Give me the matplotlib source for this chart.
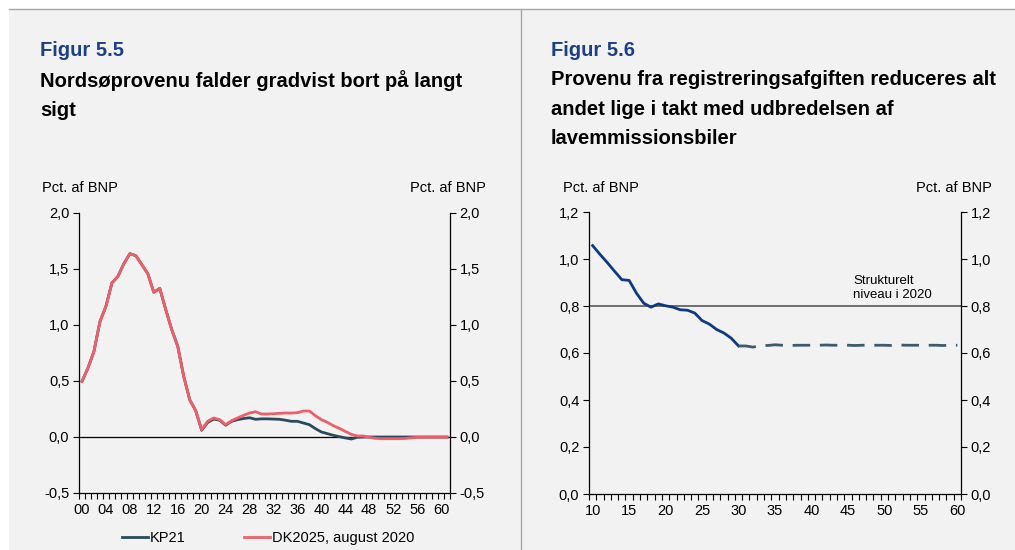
import numpy as np
import matplotlib
matplotlib.use("Agg")
import matplotlib.pyplot as plt
from matplotlib.lines import Line2D
from matplotlib.patches import Rectangle
from matplotlib.ticker import FuncFormatter, FixedLocator

plt.rcParams['font.family'] = ['Liberation Sans', 'DejaVu Sans']

# ---- Figur 5.5: Nordsøprovenu (pct. af BNP), 2000-2061 ----
years_a = list(range(0, 62))
dk2025 = [0.497, 0.616, 0.765, 1.03, 1.167, 1.375, 1.434, 1.548, 1.637, 1.619,
          1.539, 1.458, 1.292, 1.327, 1.137, 0.958, 0.81, 0.542, 0.333, 0.235,
          0.065, 0.14, 0.17, 0.155, 0.11, 0.146, 0.17, 0.193, 0.214, 0.226,
          0.205, 0.205, 0.208, 0.211, 0.214, 0.214, 0.217, 0.232, 0.232, 0.19,
          0.155, 0.131, 0.101, 0.077, 0.05, 0.024, 0.009, 0.009, -0.003, -0.012,
          -0.015, -0.015, -0.015, -0.015, -0.013, -0.008, -0.003, -0.002, -0.002, -0.002,
          -0.002, -0.002]
kp21 = [0.497, 0.616, 0.765, 1.03, 1.167, 1.375, 1.434, 1.548, 1.637, 1.619,
        1.539, 1.458, 1.292, 1.327, 1.137, 0.958, 0.81, 0.542, 0.333, 0.235,
        0.06, 0.13, 0.16, 0.15, 0.105, 0.14, 0.155, 0.165, 0.172, 0.158,
        0.162, 0.162, 0.16, 0.158, 0.15, 0.14, 0.14, 0.125, 0.11, 0.075,
        0.045, 0.03, 0.015, 0.003, -0.008, -0.018, -0.003, 0.0, 0.0, 0.0,
        0.0, 0.0, 0.0, 0.0, 0.0, 0.0, 0.0, 0.0, 0.0, 0.0,
        0.0, 0.0]
xlabels_a = ["00", "04", "08", "12", "16", "20", "24", "28", "32", "36",
             "40", "44", "48", "52", "56", "60"]

# ---- Figur 5.6: Provenu fra registreringsafgiften, 2010-2060 ----
years_hist = list(range(10, 31))
reg_hist = [1.057, 1.02, 0.985, 0.948, 0.912, 0.909, 0.855, 0.812, 0.795, 0.809,
            0.801, 0.795, 0.784, 0.782, 0.770, 0.738, 0.723, 0.700, 0.685, 0.663,
            0.630]
years_proj = list(range(30, 61))
reg_proj = [0.630, 0.630, 0.625, 0.632, 0.632, 0.635, 0.633, 0.632, 0.633, 0.633,
            0.633, 0.633, 0.634, 0.633, 0.633, 0.633, 0.632, 0.633, 0.633, 0.633,
            0.633, 0.632, 0.634, 0.633, 0.633, 0.633, 0.633, 0.633, 0.632, 0.633,
            0.633]
struct_level = 0.8
xlabels_b = ["10", "15", "20", "25", "30", "35", "40", "45", "50", "55", "60"]

RED = "#ef5f69"
DARK = "#2c4a5b"
NAVY = "#0d3a82"
DASH = "#3e5b6d"
BLUE_HEAD = "#1c3f8a"
BG = "#f2f2f2"
FS = 10.5

W, H = 1015, 550
fig = plt.figure(figsize=(W / 100, H / 100), dpi=100)
fig.patch.set_facecolor("white")

# panel background, top rule and divider
fig.patches.append(Rectangle((9 / W, 0), 1 - 9 / W, 1 - 9 / H, transform=fig.transFigure,
                             facecolor=BG, edgecolor="none", zorder=-5))
fig.lines.append(Line2D([9 / W, 1], [1 - 9 / H, 1 - 9 / H], transform=fig.transFigure,
                        color="#a6a6a6", lw=1.0, zorder=-4))
fig.lines.append(Line2D([520.5 / W, 520.5 / W], [0, 1 - 9 / H], transform=fig.transFigure,
                        color="#a6a6a6", lw=1.0, zorder=-4))

comma = FuncFormatter(lambda v, p: f"{v:.1f}".replace(".", ","))


def style_axes(ax):
    ax.set_facecolor("none")
    for s in ("left", "right", "bottom"):
        ax.spines[s].set_color("black")
        ax.spines[s].set_linewidth(0.9)
    ax.spines["top"].set_visible(False)
    ax.yaxis.set_ticks_position("both")
    ax.tick_params(axis="y", which="major", direction="out", length=4, width=0.8,
                   labelsize=FS, labelright=True, labelleft=True, pad=3)
    ax.tick_params(axis="x", which="major", length=0, labelsize=FS, pad=7)
    ax.tick_params(axis="x", which="minor", direction="out", length=4, width=0.8)
    ax.yaxis.set_major_formatter(comma)


# Left chart
ax1 = fig.add_axes([79 / W, 1 - 493 / H, 371 / W, 280 / H])
style_axes(ax1)
ax1.set_xlim(-0.5, 61.5)
ax1.set_ylim(-0.5, 2.0)
ax1.set_yticks(np.arange(-0.5, 2.01, 0.5))
ax1.set_xticks(np.arange(0, 61, 4))
ax1.set_xticklabels(xlabels_a)
ax1.xaxis.set_minor_locator(FixedLocator(np.arange(-0.5, 61.6, 1)))
ax1.axhline(0, color="black", lw=0.9, zorder=1)
ax1.plot(years_a, kp21, color=DARK, lw=2.0, label="KP21", zorder=3,
         solid_joinstyle="round")
ax1.plot(years_a, dk2025, color=RED, lw=2.0, label="DK2025, august 2020", zorder=4,
         solid_joinstyle="round")

# Right chart
ax2 = fig.add_axes([589 / W, 1 - 494 / H, 372 / W, 282 / H])
style_axes(ax2)
ax2.set_xlim(9.5, 60.5)
ax2.set_ylim(0.0, 1.2)
ax2.set_yticks(np.arange(0.0, 1.21, 0.2))
ax2.set_xticks(np.arange(10, 61, 5))
ax2.set_xticklabels(xlabels_b)
ax2.xaxis.set_minor_locator(FixedLocator(np.arange(9.5, 60.6, 1)))
ax2.axhline(struct_level, color="#595959", lw=1.2, zorder=1)
ax2.plot(years_hist, reg_hist, color=NAVY, lw=2.0, zorder=3, solid_joinstyle="round")
ax2.plot(years_proj, reg_proj, color=DASH, lw=2.0, zorder=3, dashes=(6.3, 3.5))
ax2.text(45.7, 0.82, "Strukturelt\nniveau i 2020", fontsize=9.5, color="black",
         ha="left", va="bottom", linespacing=1.25)

# Headings
fig.text(40 / W, 1 - 51 / H, "Figur 5.5", fontsize=14.5, fontweight="bold",
         color=BLUE_HEAD, va="center", ha="left")
fig.text(40 / W, 1 - 95 / H, "Nordsøprovenu falder gradvist bort på langt\nsigt",
         fontsize=14.5, fontweight="bold", color="black", va="center", ha="left",
         linespacing=1.72)
fig.text(551 / W, 1 - 51 / H, "Figur 5.6", fontsize=14.5, fontweight="bold",
         color=BLUE_HEAD, va="center", ha="left")
fig.text(551 / W, 1 - 109 / H,
         "Provenu fra registreringsafgiften reduceres alt\nandet lige i takt med udbredelsen af\nlavemmissionsbiler",
         fontsize=14.5, fontweight="bold", color="black", va="center", ha="left",
         linespacing=1.72)

# Unit labels
for x, ha in ((42, "left"), (486, "right"), (563, "left"), (992, "right")):
    fig.text(x / W, 1 - 188 / H, "Pct. af BNP", fontsize=FS, color="black",
             ha=ha, va="center")

# Legend for the left chart
fig.legend(handles=ax1.get_lines()[1:], loc="center", bbox_to_anchor=(268 / W, 1 - 538 / H),
           ncol=2, frameon=False, fontsize=FS, handlelength=1.8, handletextpad=0.1,
           columnspacing=4.0, borderaxespad=0)

fig.savefig("out.png", dpi=100, facecolor=fig.get_facecolor())
